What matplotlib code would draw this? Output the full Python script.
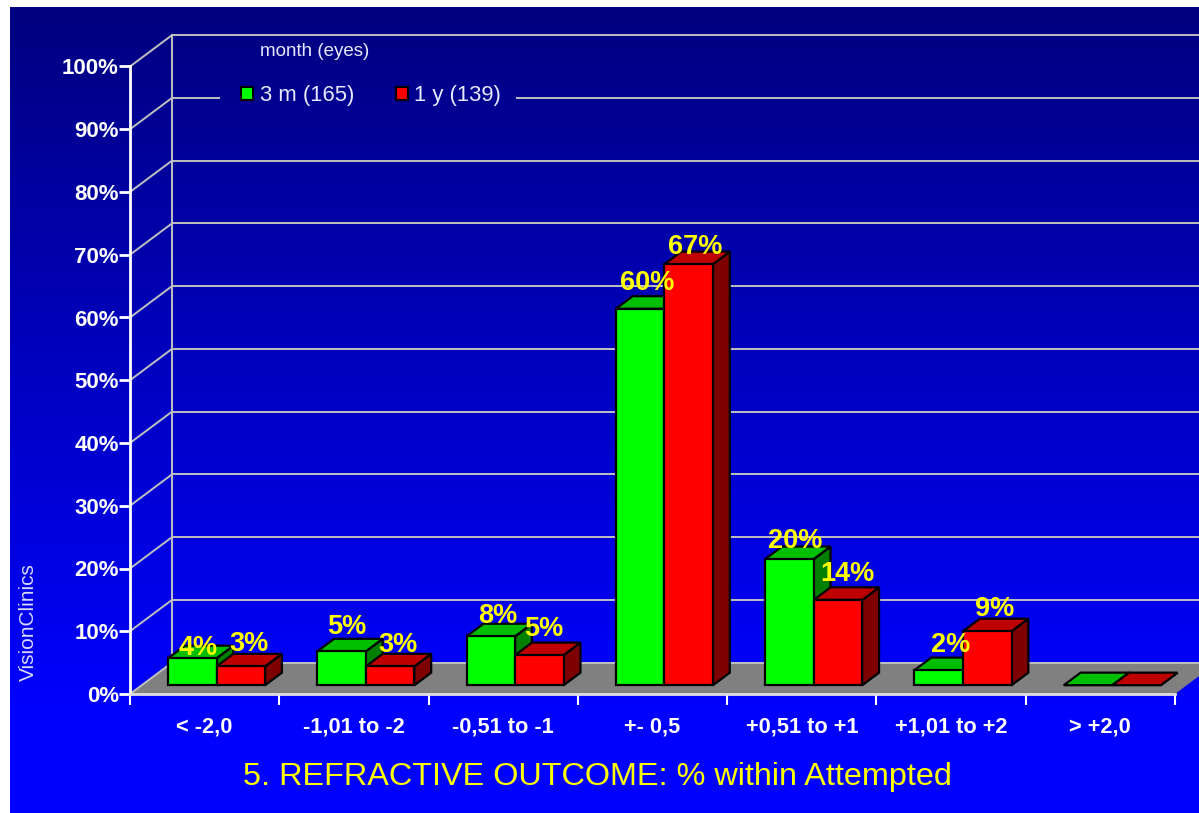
import numpy as np
import matplotlib
matplotlib.use('Agg')
import matplotlib.pyplot as plt
from matplotlib.patches import Patch

plt.rcParams['font.family'] = ['Liberation Sans', 'DejaVu Sans']

categories = ['< -2,0', '-1,01 to -2', '-0,51 to -1', '+- 0,5', '+0,51 to +1', '+1,01 to +2', '> +2,0']
y_ticks = [0, 10, 20, 30, 40, 50, 60, 70, 80, 90, 100]
green_vals = [4.3, 5.4, 7.8, 60.0, 20.1, 2.4, 0]
red_vals = [3.0, 3.0, 4.8, 67.1, 13.6, 8.6, 0]
green_name = '3 m (165)'
red_name = '1 y (139)'

# label nudges in pixels, the original labels were moved by hand
green_nudge = [(6, 10), (5, 24), (7, 20), (7, 26), (6, 18), (12, 25), (0, 0)]
red_nudge = [(8, 22), (8, 21), (4, 26), (6, 17), (9, 26), (7, 22), (0, 0)]

W, H = 1199, 813
fig = plt.figure(figsize=(W / 100, H / 100), dpi=100, facecolor='white')

# background gradient
bg = fig.add_axes([10 / W, 0, 1 - 10 / W, 1 - 7 / H])
grad = np.linspace(0, 1, 256).reshape(-1, 1)
cmap = matplotlib.colors.LinearSegmentedColormap.from_list('bg', ['#000080', '#0000ff'])
bg.imshow(grad, aspect='auto', cmap=cmap, extent=[0, 1, 0, 1], origin='upper', vmin=0, vmax=0.88)
bg.axis('off')

left, right, bottom, top = 130, 1175, 694, 66.5
ax = fig.add_axes([left / W, 1 - bottom / H, (right - left) / W, (bottom - top) / H])
ax.patch.set_alpha(0)
ax.set_xlim(0, 7)
ax.set_ylim(0, 100)

depth_x = 42 / ((right - left) / 7)
depth_y = 5.0
grid_col = '#c0c0c0'
# the legend sits on the 90% line and breaks it
legend_gap = (0.596, 2.592)

# floor
ax.fill([0, 7, 7 + depth_x, depth_x], [0, 0, depth_y, depth_y], color='#808080', clip_on=False, zorder=1, lw=0)

# walls
for v in y_ticks:
    ax.plot([0, depth_x], [v, v + depth_y], color=grid_col, lw=1.4, clip_on=False, zorder=1.5)
    if v == 90:
        ax.plot([depth_x, legend_gap[0]], [v + depth_y, v + depth_y], color=grid_col, lw=1.4, clip_on=False, zorder=1.5)
        ax.plot([legend_gap[1], 8], [v + depth_y, v + depth_y], color=grid_col, lw=1.4, clip_on=False, zorder=1.5)
    else:
        ax.plot([depth_x, 8], [v + depth_y, v + depth_y], color=grid_col, lw=1.4, clip_on=False, zorder=1.5)
ax.plot([depth_x, depth_x], [depth_y, 100 + depth_y], color=grid_col, lw=1.4, clip_on=False, zorder=1.5)


def draw_bar(x0, w, h, front, top_col, side_col, z):
    # bar stands in the middle of the floor depth
    dy0 = 0.28 * depth_y
    dx = 0.40 * depth_x
    dy = 0.40 * depth_y
    xa = x0
    xb = x0 + w
    y0 = dy0
    y1 = dy0 + h
    kw = dict(ec='black', lw=1.6, clip_on=False, zorder=z, joinstyle='miter')
    ax.fill([xb, xb + dx, xb + dx, xb], [y0, y0 + dy, y1 + dy, y1], fc=side_col, **kw)
    ax.fill([xa, xb, xb + dx, xa + dx], [y1, y1, y1 + dy, y1 + dy], fc=top_col, **kw)
    if h > 0:
        ax.fill([xa, xb, xb, xa], [y0, y0, y1, y1], fc=front, **kw)


bar_w = 0.325
start = 0.255
for i in range(len(categories)):
    x0 = i + start
    draw_bar(x0, bar_w, green_vals[i], '#00ff00', '#00bf00', '#007f00', 3 + i * 0.1)
    draw_bar(x0 + bar_w, bar_w, red_vals[i], '#ff0000', '#bf0000', '#7f0000', 3.05 + i * 0.1)

# value labels
lab = dict(color='#ffff00', fontsize=19.5, fontweight='bold', ha='center', va='center',
           textcoords='offset pixels', annotation_clip=False, zorder=6)
for i in range(len(categories)):
    x0 = i + start
    if green_vals[i] > 0:
        ax.annotate('%.0f%%' % green_vals[i], (x0 + bar_w / 2, green_vals[i] + 0.28 * depth_y),
                    xytext=green_nudge[i], **lab)
    if red_vals[i] > 0:
        ax.annotate('%.0f%%' % red_vals[i], (x0 + bar_w * 1.5, red_vals[i] + 0.28 * depth_y),
                    xytext=red_nudge[i], **lab)

# axes
for s in ['top', 'right']:
    ax.spines[s].set_visible(False)
ax.spines['left'].set_color('white')
ax.spines['left'].set_linewidth(2)
ax.spines['bottom'].set_color('#e0e0e0')
ax.spines['bottom'].set_linewidth(2)
ax.spines['left'].set_zorder(2)
ax.spines['bottom'].set_zorder(2)
ax.set_yticks(y_ticks)
ax.set_yticklabels(['%d%%' % v for v in y_ticks], color='white', fontsize=16, fontweight='bold')
ax.tick_params(axis='y', color='white', width=2, length=8, pad=0)
ax.set_xticks(range(8))
ax.set_xticklabels([])
ax.tick_params(axis='x', which='major', color='white', width=1.5, length=8)
ax.set_xticks(np.arange(7) + 0.5, minor=True)
ax.set_xticklabels(categories, minor=True, color='white', fontsize=15.7, fontweight='bold')
ax.tick_params(axis='x', which='minor', length=0, pad=16)

# legend
handles = [Patch(fc='#00ff00', ec='black', lw=1.5, label=green_name),
           Patch(fc='#ff0000', ec='black', lw=1.5, label=red_name)]
leg = ax.legend(handles=handles, ncol=2, loc='center', bbox_to_anchor=(371 / W, 1 - 95.5 / H),
                bbox_transform=fig.transFigure, frameon=False, fontsize=15.8, labelcolor='#e8e8ff',
                handlelength=0.55, handleheight=0.55, handletextpad=0.3, columnspacing=1.9,
                borderpad=0.9, borderaxespad=0)
leg.set_zorder(2.5)

fig.text(260 / W, 1 - 51 / H, 'month (eyes)', color='#e8e8ff', fontsize=13.5, va='center', ha='left')
fig.text(597.5 / W, 1 - 777 / H, '5. REFRACTIVE OUTCOME: % within Attempted', color='#ffff00', fontsize=23.3,
         ha='center', va='center')
fig.text(28 / W, 1 - 622 / H, 'VisionClinics', color='#d8d8ff', fontsize=15, rotation=90, ha='center', va='center')

fig.savefig('out.png', dpi=100)
